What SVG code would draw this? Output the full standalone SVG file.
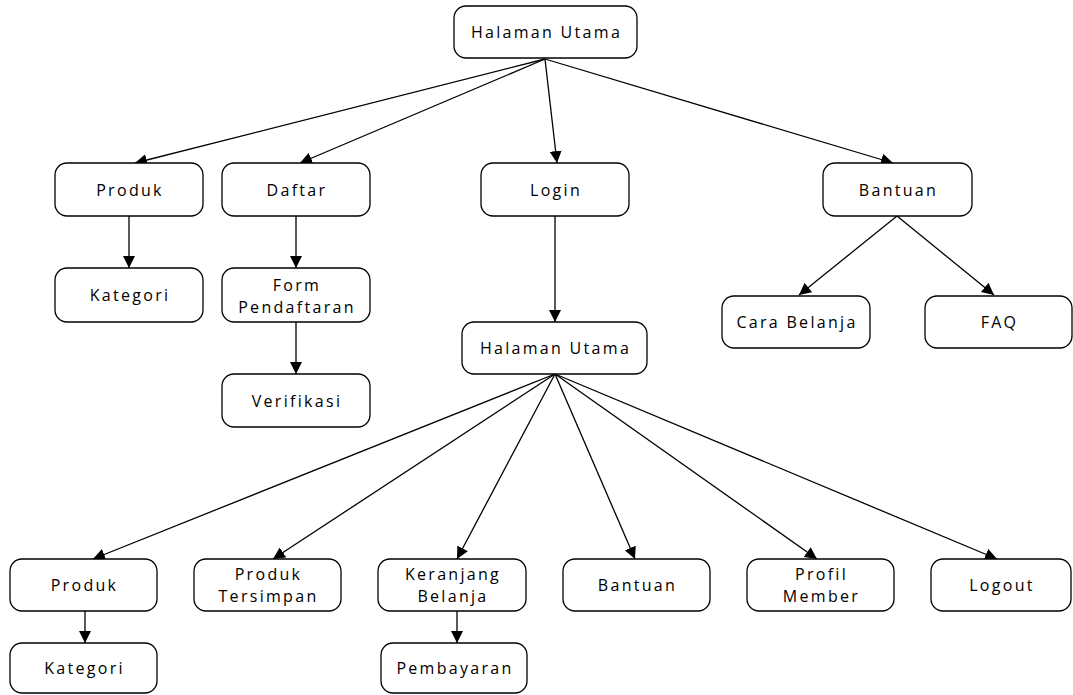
<svg xmlns="http://www.w3.org/2000/svg" width="1073" height="695" viewBox="0 0 1073 695">
<style>
.n rect{fill:#fff;stroke:#000;stroke-width:1.3}
.n text{font-family:"Open Sans",Lato,sans-serif;font-size:16px;letter-spacing:2.3px;text-anchor:middle;dominant-baseline:central;fill:#000}
.c line{stroke:#000;stroke-width:1.3;marker-end:url(#ah)}
</style>
<defs>
<marker id="ah" viewBox="0 0 12 12" refX="12" refY="6" markerWidth="12" markerHeight="12" markerUnits="userSpaceOnUse" orient="auto">
<path d="M0,0 L12,6 L0,12 z" fill="#000"/>
</marker>
</defs>
<rect width="1073" height="695" fill="#fff"/>
<g id="connectors" class="c">
<line x1="545" y1="59" x2="135" y2="163"/>
<line x1="545" y1="59" x2="300" y2="163"/>
<line x1="545" y1="59" x2="557" y2="163"/>
<line x1="545" y1="59" x2="893" y2="163"/>
<line x1="129" y1="216" x2="129" y2="268"/>
<line x1="296" y1="216" x2="296" y2="268"/>
<line x1="296" y1="322" x2="296" y2="374"/>
<line x1="555" y1="216" x2="555" y2="322"/>
<line x1="897" y1="216" x2="799" y2="295"/>
<line x1="897" y1="216" x2="994" y2="295"/>
<line x1="555" y1="374" x2="93" y2="559"/>
<line x1="555" y1="374" x2="273" y2="559"/>
<line x1="555" y1="374" x2="457" y2="559"/>
<line x1="555" y1="374" x2="635" y2="559"/>
<line x1="555" y1="374" x2="817" y2="559"/>
<line x1="555" y1="374" x2="997" y2="559"/>
<line x1="85" y1="611" x2="85" y2="643"/>
<line x1="457" y1="611" x2="457" y2="643"/>
</g>
<g id="halaman-utama" class="n"><rect x="454" y="6" width="183" height="52" rx="12"/><text x="546.5" y="32">Halaman Utama</text></g>
<g id="produk" class="n"><rect x="55" y="163" width="148" height="53" rx="12"/><text x="130" y="189.5">Produk</text></g>
<g id="daftar" class="n"><rect x="222" y="163" width="148" height="53" rx="12"/><text x="297" y="189.5">Daftar</text></g>
<g id="login" class="n"><rect x="481" y="163" width="148" height="53" rx="12"/><text x="556" y="189.5">Login</text></g>
<g id="bantuan" class="n"><rect x="823" y="163" width="149" height="53" rx="12"/><text x="898.5" y="189.5">Bantuan</text></g>
<g id="kategori" class="n"><rect x="55" y="268" width="148" height="54" rx="12"/><text x="130" y="295">Kategori</text></g>
<g id="form-pendaftaran" class="n"><rect x="222" y="268" width="148" height="54" rx="12"/><text x="297" y="285">Form</text><text x="297" y="307">Pendaftaran</text></g>
<g id="verifikasi" class="n"><rect x="222" y="374" width="148" height="53" rx="12"/><text x="297" y="400.5">Verifikasi</text></g>
<g id="cara-belanja" class="n"><rect x="722" y="296" width="148" height="52" rx="12"/><text x="797" y="322">Cara Belanja</text></g>
<g id="faq" class="n"><rect x="925" y="296" width="147" height="52" rx="12"/><text x="999.5" y="322">FAQ</text></g>
<g id="halaman-utama-2" class="n"><rect x="462" y="322" width="185" height="52" rx="12"/><text x="555.5" y="348">Halaman Utama</text></g>
<g id="produk-2" class="n"><rect x="10" y="559" width="147" height="52" rx="12"/><text x="84.5" y="585">Produk</text></g>
<g id="produk-tersimpan" class="n"><rect x="194" y="559" width="147" height="52" rx="12"/><text x="268.5" y="574">Produk</text><text x="268.5" y="596">Tersimpan</text></g>
<g id="keranjang-belanja" class="n"><rect x="378" y="559" width="148" height="52" rx="12"/><text x="453" y="574">Keranjang</text><text x="453" y="596">Belanja</text></g>
<g id="bantuan-2" class="n"><rect x="563" y="559" width="147" height="52" rx="12"/><text x="637.5" y="585">Bantuan</text></g>
<g id="profil-member" class="n"><rect x="747" y="559" width="147" height="52" rx="12"/><text x="821.5" y="574">Profil</text><text x="821.5" y="596">Member</text></g>
<g id="logout" class="n"><rect x="931" y="559" width="140" height="52" rx="12"/><text x="1002" y="585">Logout</text></g>
<g id="kategori-2" class="n"><rect x="10" y="643" width="147" height="50" rx="12"/><text x="84.5" y="668">Kategori</text></g>
<g id="pembayaran" class="n"><rect x="381" y="643" width="146" height="50" rx="12"/><text x="455" y="668">Pembayaran</text></g>
</svg>
